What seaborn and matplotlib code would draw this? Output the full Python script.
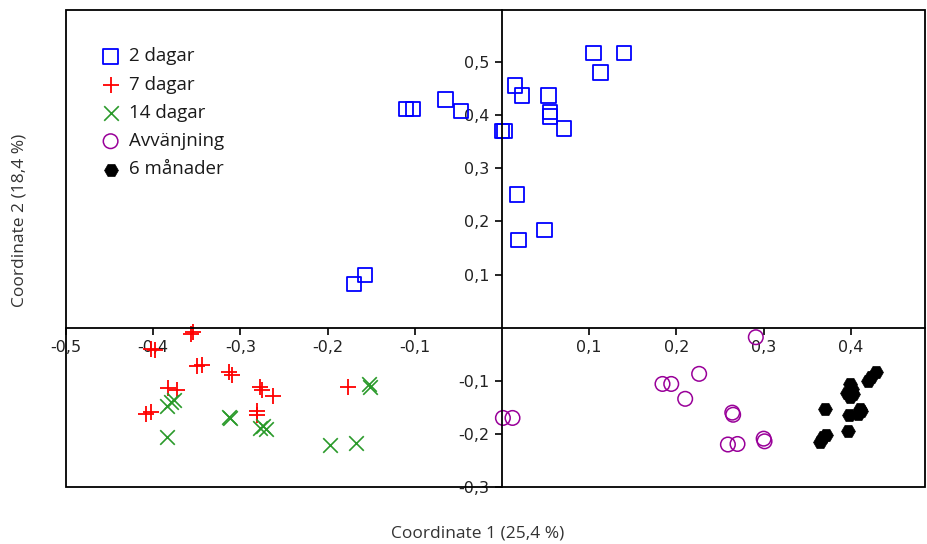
import matplotlib
matplotlib.use("Agg")
import matplotlib.pyplot as plt
import seaborn as sns
import pandas as pd
from matplotlib.ticker import FuncFormatter, FixedLocator
from matplotlib.patches import Rectangle

groups = ["2 dagar", "7 dagar", "14 dagar", "Avvänjning", "6 månader"]

x_2d = [0.105, 0.140, 0.113, 0.015, 0.023, 0.053, 0.055, 0.055, 0.071, 0.000, 0.003,
        0.017, 0.019, 0.049, -0.065, -0.047, -0.110, -0.102, -0.170, -0.157]
y_2d = [0.517, 0.517, 0.480, 0.456, 0.437, 0.437, 0.406, 0.397, 0.375, 0.370, 0.370,
        0.251, 0.165, 0.184, 0.430, 0.408, 0.412, 0.412, 0.082, 0.099]

x_7d = [-0.357, -0.354, -0.403, -0.398, -0.350, -0.344, -0.313, -0.310, -0.383, -0.373,
        -0.277, -0.275, -0.263, -0.177, -0.408, -0.403, -0.281, -0.281]
y_7d = [-0.012, -0.009, -0.040, -0.043, -0.073, -0.070, -0.084, -0.090, -0.113, -0.117,
        -0.111, -0.117, -0.128, -0.111, -0.162, -0.158, -0.156, -0.165]

x_14d = [-0.380, -0.384, -0.376, -0.312, -0.313, -0.277, -0.271, -0.274, -0.153, -0.151,
         -0.384, -0.197, -0.167]
y_14d = [-0.140, -0.147, -0.136, -0.170, -0.168, -0.189, -0.190, -0.186, -0.106, -0.111,
         -0.206, -0.220, -0.217]

x_avv = [0.291, 0.184, 0.194, 0.226, 0.210, 0.264, 0.265, 0.259, 0.270, 0.300, 0.301,
         0.001, 0.012]
y_avv = [-0.018, -0.106, -0.106, -0.087, -0.134, -0.160, -0.164, -0.220, -0.219, -0.209,
         -0.214, -0.170, -0.170]

x_6m = [0.370, 0.368, 0.372, 0.365, 0.397, 0.399, 0.401, 0.395, 0.399, 0.402, 0.398,
        0.410, 0.408, 0.412, 0.420, 0.423, 0.429]
y_6m = [-0.153, -0.206, -0.203, -0.216, -0.194, -0.106, -0.115, -0.123, -0.131, -0.125,
        -0.165, -0.153, -0.162, -0.156, -0.100, -0.093, -0.084]

x_ticks = [-0.5, -0.4, -0.3, -0.2, -0.1, 0.1, 0.2, 0.3, 0.4]
y_ticks = [-0.3, -0.2, -0.1, 0.1, 0.2, 0.3, 0.4, 0.5]

series = [(x_2d, y_2d), (x_7d, y_7d), (x_14d, y_14d), (x_avv, y_avv), (x_6m, y_6m)]
frames = []
for g, (xs, ys) in zip(groups, series):
    frames.append(pd.DataFrame({"x": xs, "y": ys, "grupp": g}))
df = pd.concat(frames, ignore_index=True)

sns.set_theme(style="white")
plt.rcParams["font.family"] = ["DejaVu Sans"]

fig = plt.figure(figsize=(9.27, 5.44), dpi=100)
ax = fig.add_axes([66 / 927, 1 - 487 / 544, (925 - 66) / 927, (487 - 10) / 544])

styles = {
    "2 dagar": dict(marker="s", s=110, facecolor="none", edgecolor="#0000ff", linewidth=1.3),
    "7 dagar": dict(marker="+", s=130, color="#ff0000", linewidth=1.3),
    "14 dagar": dict(marker="x", s=110, color="#2a9a2a", linewidth=1.2),
    "Avvänjning": dict(marker="o", s=110, facecolor="none", edgecolor="#990099", linewidth=1.1),
    "6 månader": dict(marker="H", s=100, color="black", edgecolor="black", linewidth=0.5),
}
for g in groups:
    sub = df[df["grupp"] == g]
    sns.scatterplot(data=sub, x="x", y="y", ax=ax, label=g, **styles[g])

ax.set_xlim(-0.5, 0.485)
ax.set_ylim(-0.3, 0.598)

for side in ["top", "right"]:
    ax.spines[side].set_visible(False)
ax.spines["left"].set_position(("data", 0))
ax.spines["bottom"].set_position(("data", 0))
for side in ["left", "bottom"]:
    ax.spines[side].set_color("black")
    ax.spines[side].set_linewidth(1.3)

ax.add_patch(Rectangle((0, 0), 1, 1, transform=ax.transAxes, fill=False,
                       edgecolor="black", linewidth=1.3, clip_on=False, zorder=5))

fmt = FuncFormatter(lambda v, p: f"{v:.1f}".replace(".", ","))
ax.xaxis.set_major_locator(FixedLocator(x_ticks))
ax.yaxis.set_major_locator(FixedLocator(y_ticks))
ax.xaxis.set_major_formatter(fmt)
ax.yaxis.set_major_formatter(fmt)
ax.tick_params(axis="both", direction="out", length=5, width=1.2, color="black",
               labelsize=11.5, labelcolor="#222222", bottom=True, left=True, pad=4)
ax.set_xlabel("")
ax.set_ylabel("")
ax.grid(False)

fig.text(478 / 927, 1 - 533 / 544, "Coordinate 1 (25,4 %)", ha="center", va="center",
         fontsize=12.5, color="#333333", family=["Open Sans", "DejaVu Sans"])
fig.text(20 / 927, 1 - 220 / 544, "Coordinate 2 (18,4 %)", ha="center", va="center",
         rotation=90, fontsize=12.5, color="#333333", family=["Open Sans", "DejaVu Sans"])

leg = ax.legend(loc="upper left", bbox_to_anchor=(0.041, 0.922), frameon=False,
                prop={"family": ["Open Sans", "DejaVu Sans"], "size": 13.5},
                handletextpad=0.5, labelspacing=0.55, handlelength=1.0,
                borderaxespad=0, borderpad=0)
for t in leg.get_texts():
    t.set_color("#1a1a1a")

fig.savefig("out.png", dpi=100)
